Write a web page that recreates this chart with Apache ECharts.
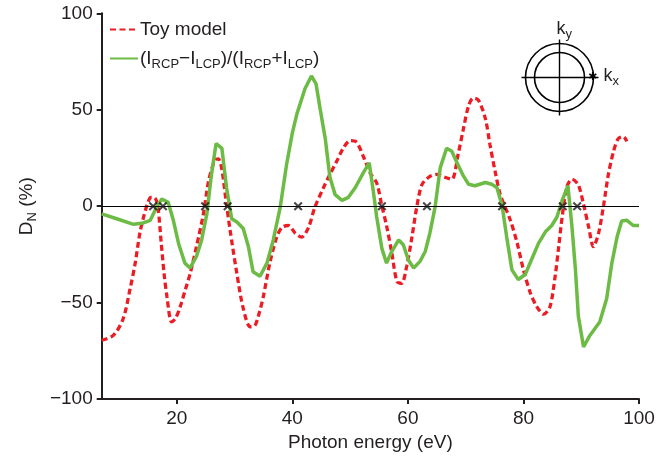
<!DOCTYPE html>
<html>
<head>
<meta charset="utf-8">
<script src="https://cdn.jsdelivr.net/npm/echarts@6/dist/echarts.min.js"></script>
<style>
html,body{margin:0;padding:0;background:#fff;}
#c{width:669px;height:457px;}
</style>
</head>
<body>
<div id="c"></div>
<script>
// ---- data ----
const toyModel = [
  [7,-69.5],[9,-67],[10.7,-58.5],[11.9,-43],[12.8,-29.5],[13.6,-14],[14.3,-5],[14.9,1],[15.5,4.5],[16.1,4.5],
  [16.7,0],[17.3,-19],[17.8,-35],[18.3,-47],[19.1,-60],[19.8,-58],[20.6,-52],[21.5,-43],[22.3,-35],[23.4,-21],
  [24.6,-4],[25.5,13],[26.6,24],[27.2,24.5],[27.8,19],[28.6,1],[29.2,-12],[30.4,-35],[31.5,-53],[32.7,-62.5],
  [33.5,-62],[34.3,-55],[35,-46.5],[36.1,-29.5],[37.3,-16],[38.2,-11],[39.3,-10],[40.5,-14],[41.6,-16],[42.8,-11],
  [43.9,-0.5],[45.4,9.7],[46.5,16.5],[47.7,23.4],[48.8,30],[50,34],[51,33.5],[52.4,25],[53.5,17],[54.6,12],
  [55.5,0],[56.3,-10],[57.2,-24],[58.1,-39],[58.9,-40],[59.8,-31],[60.7,-16],[61.5,-1],[62.4,11],[63.6,15],
  [65,16.5],[66.4,15],[67.6,14],[68.7,27],[69.6,40],[70.5,52],[71.3,56],[72.2,55],[73.4,45.5],[74.2,32],
  [75.1,18],[76,6],[77.7,-7],[78.9,-19],[80,-33],[81.2,-45],[82.3,-52],[83.5,-56],[84.6,-52],[85.5,-36],
  [86.1,-21],[86.7,-5.6],[87.5,10],[88.4,14],[89.5,11],[90.4,1],[91.3,-11],[92.1,-21],[93,-14],[93.9,1],
  [94.7,16.5],[95.6,28.5],[96.4,35],[97.3,36],[97.9,33.6]
];
const ratio = [
  [7,-4],[9.6,-6.5],[12.5,-9.4],[14.2,-8.7],[15.4,-7.3],[16.5,-0.5],[17.4,3.7],[18.5,2],[19.4,-7.3],[20.3,-19.3],
  [21.4,-29.5],[22.3,-32],[23.4,-26],[24.3,-17.5],[25.2,-4],[26,16.5],[26.8,32.5],[27.8,30],[28.6,9.7],[29.5,-6.5],
  [30.4,-8.2],[31.5,-11.6],[32.4,-21],[33.2,-34],[34.4,-36.3],[35.6,-29.5],[36.7,-17.5],[37.9,-0.5],[39,21.6],[40,38],
  [40.8,48],[42.2,61],[43.3,67.5],[44.1,63.4],[44.8,50.6],[45.7,35],[46.5,15],[47.4,6],[48.6,3],[49.7,4.6],
  [50.9,9.7],[52.3,17.4],[53.3,22.5],[54,8],[54.6,-5.6],[55.5,-22],[56.3,-29.5],[57.2,-23.5],[58.4,-17.5],[59.2,-20],
  [60.1,-28],[61,-32],[62.1,-28.6],[63,-23.5],[63.8,-14],[64.7,-0.5],[65.6,20],[66.7,30],[67.6,28.5],[68.5,22.5],
  [69.6,15.7],[70.5,11.4],[71.6,10.6],[73.4,12.3],[74.5,11.4],[75.4,9.7],[76.3,0.4],[77.1,-16],[78,-33],[79.1,-38],
  [80.3,-35.4],[81.5,-27],[82.6,-19.3],[83.8,-13.3],[84.9,-10],[85.8,-5.6],[86.7,3],[87.7,10.6],[88.4,-10.7],[89,-33],
  [89.5,-57],[90.4,-73],[91.5,-67],[93.2,-60],[94.4,-48],[95.3,-29.5],[96.2,-16],[97,-7.7],[97.9,-7.3],[99,-10],[100,-10]
];
const crossings = [15.9,17.6,24.9,28.8,41.0,55.5,63.3,76.3,86.8,89.3];
const xTicks = [20,40,60,80,100];
const yTicks = [-100,-50,0,50,100];
const seriesNames = ['Toy model','(I{sub|RCP}\u2212I{sub|LCP})/(I{sub|RCP}+I{sub|LCP})'];

// ---- chart ----
const FONT = '"Liberation Sans", Arial, Helvetica, sans-serif';
const INK = '#231f20';
const RED = '#ec1c24';
const GREEN = '#6cbb45';
const chart = echarts.init(document.getElementById('c'), null, {renderer:'canvas'});
const X_ICON = 'path://M0,1.6L1.6,0L5,3.4L8.4,0L10,1.6L6.6,5L10,8.4L8.4,10L5,6.6L1.6,10L0,8.4L3.4,5Z';

chart.setOption({
  animation:false,
  backgroundColor:'#fff',
  textStyle:{fontFamily:FONT,color:INK},
  grid:{left:101.7,right:30,top:13.3,bottom:52,containLabel:false},
  legend:{
    orient:'vertical',left:104,top:15,itemWidth:28,itemHeight:14,itemGap:10,
    data:seriesNames,
    itemStyle:{opacity:0},
    textStyle:{fontFamily:FONT,fontSize:19,color:INK,padding:[0,0,0,-3],
      rich:{sub:{fontFamily:FONT,fontSize:13,color:INK,padding:[11,0,0,0]}}}
  },
  xAxis:{
    type:'value',min:7,max:100,
    name:'Photon energy (eV)',nameLocation:'middle',nameGap:29,
    nameTextStyle:{fontFamily:FONT,fontSize:19,color:INK},
    axisLine:{show:true,onZero:false,lineStyle:{color:INK,width:2}},
    axisTick:{show:true,length:5,inside:false,lineStyle:{color:INK,width:2},customValues:xTicks},
    axisLabel:{fontFamily:FONT,fontSize:19,color:INK,margin:10,customValues:xTicks},
    splitLine:{show:false}
  },
  yAxis:{
    type:'value',min:-100,max:100,interval:50,
    name:'D{sub|N} (%)',nameLocation:'middle',nameGap:62,nameRotate:90,
    nameTextStyle:{fontFamily:FONT,fontSize:19,color:INK,
      rich:{sub:{fontFamily:FONT,fontSize:13,color:INK,padding:[11,0,0,0]}}},
    axisLine:{show:true,onZero:false,lineStyle:{color:INK,width:2}},
    axisTick:{show:true,length:5,inside:false,lineStyle:{color:INK,width:2}},
    axisLabel:{fontFamily:FONT,fontSize:19,color:INK,margin:9,
      formatter:v=>yTicks.includes(v)?(v<0?'\u2212'+Math.abs(v):String(v)):''},
    splitLine:{show:false}
  },
  series:[
    {
      name:seriesNames[0],type:'line',data:toyModel,symbol:'none',smooth:0.3,z:3,
      lineStyle:{color:RED,width:3.3,type:[6,3.5]},itemStyle:{color:RED},
      markLine:{silent:true,symbol:'none',label:{show:false},
        lineStyle:{color:'#000',width:1.1,type:'solid'},data:[{yAxis:0}]}
    },
    {
      name:seriesNames[1],type:'line',data:ratio,symbol:'none',z:4,
      lineStyle:{color:GREEN,width:3.5},itemStyle:{color:GREEN}
    },
    {
      name:'crossings',type:'scatter',data:crossings.map(x=>[x,0]),symbol:X_ICON,symbolSize:9,z:5,
      itemStyle:{color:'#1a1a1a'},silent:true
    }
  ],
  graphic:[
    {type:'group',left:519,top:20,children:[
      {type:'circle',shape:{cx:39,cy:49,r:34},style:{fill:'none',stroke:'#000',lineWidth:1.6}},
      {type:'circle',shape:{cx:39,cy:49,r:25},style:{fill:'none',stroke:'#000',lineWidth:1.6}},
      {type:'line',shape:{x1:1,y1:49,x2:78,y2:49},style:{stroke:'#000',lineWidth:1.4}},
      {type:'line',shape:{x1:39,y1:11,x2:39,y2:87},style:{stroke:'#000',lineWidth:1.4}},
      {type:'text',x:72,y:49,style:{text:'\u2731',fill:'#000',fontSize:11,align:'center',verticalAlign:'middle',fontFamily:'DejaVu Sans'}},
      {type:'text',x:36,y:-11,style:{text:'k{s|y}',fill:INK,fontSize:18,fontFamily:FONT,
        rich:{s:{fontSize:13,fontFamily:FONT,fill:INK,padding:[10,0,0,0]}}}},
      {type:'text',x:83,y:36,style:{text:'k{s|x}',fill:INK,fontSize:18,fontFamily:FONT,
        rich:{s:{fontSize:13,fontFamily:FONT,fill:INK,padding:[10,0,0,0]}}}}
    ]}
  ]
});
</script>
</body>
</html>
